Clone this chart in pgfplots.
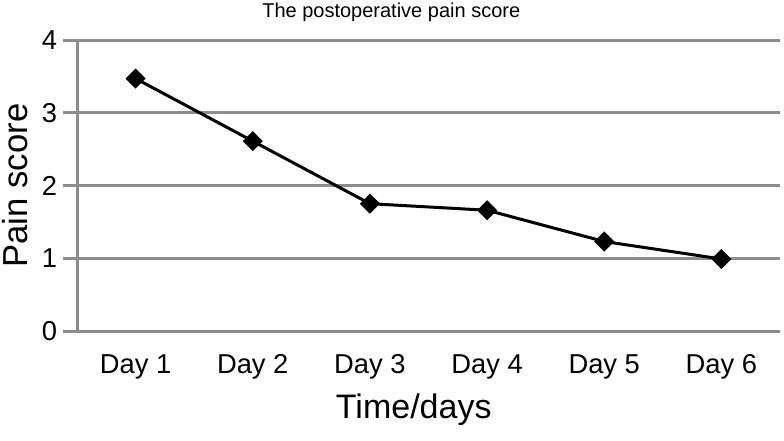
\documentclass[border=0pt]{standalone}
\usepackage{pgfplots}
\pgfplotsset{compat=1.18}
\usepackage{fontspec}
\setmainfont{Liberation Sans}
\definecolor{gridgray}{HTML}{8C8C8C}
\begin{document}
\begin{tikzpicture}
\useasboundingbox (-57.75pt,-81.75pt) rectangle (530.25pt,248.25pt);
\begin{axis}[
  at={(0,0)}, anchor=south west,
  scale only axis,
  width=527.25pt, height=218.25pt,
  xmin=0.5, xmax=6.5, ymin=0, ymax=4,
  xtick={1,2,3,4,5,6},
  xticklabels={Day 1,Day 2,Day 3,Day 4,Day 5,Day 6},
  ytick={0,1,2,3,4},
  /pgf/number format/assume math mode=true,
  axis lines*=left,
  x axis line style={draw=none},
  y axis line style={draw=gridgray, line width=2.25pt},
  x tick style={draw=none},
  y tick style={draw=gridgray, line width=2.25pt},
  tick align=outside,
  major tick length=10.5pt,
  ymajorgrids,
  grid style={draw=gridgray, line width=2.25pt},
  xticklabel style={font=\fontsize{20.5}{24}\selectfont, anchor=base, yshift=-21pt},
  yticklabel style={font=\fontsize{20.5}{24}\selectfont, xshift=-1pt},
  every axis x label/.style={at={(axis description cs:0.479,-0.271)}, anchor=center, font=\fontsize{25.5}{30}\selectfont},
  every axis y label/.style={at={(axis description cs:-0.088,0.5)}, rotate=90, anchor=center, font=\fontsize{26}{30}\selectfont},
  xlabel={Time/days},
  ylabel={Pain score},
  title={The postoperative pain score},
  every axis title/.style={at={(axis description cs:0.447,1.096)}, anchor=center, font=\fontsize{15}{18}\selectfont},
  clip=false,
]
\addplot[black, line width=2.25pt, mark=square*, mark size=4.2pt, mark options={rotate=45, solid}] coordinates {
  (1,3.47) (2,2.61) (3,1.75) (4,1.66) (5,1.23) (6,0.99)
};
\end{axis}
\end{tikzpicture}
\end{document}
